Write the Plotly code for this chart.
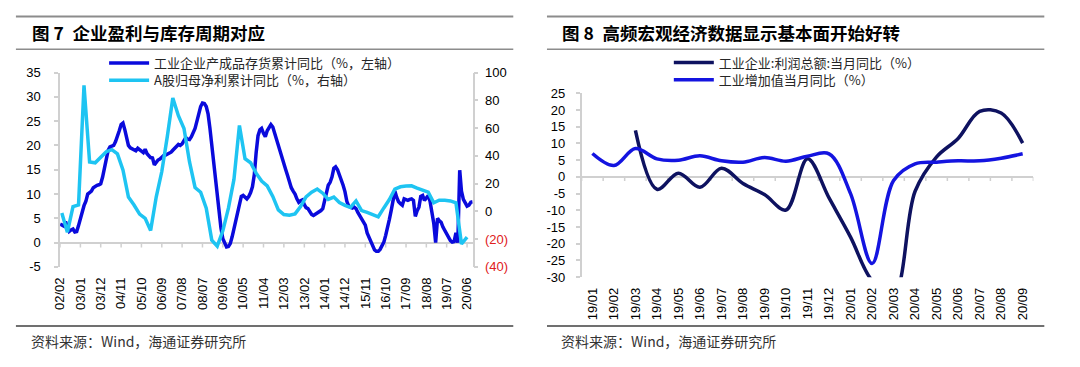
import pandas as pd
import plotly.graph_objects as go

W, H = 1080, 367


def fx(x):
    return x / W


def fy(y):
    return 1 - y / H


# ---------------- Figure 7 data ----------------
inventory_start = "2002-02-01"   # monthly, 工业企业产成品存货累计同比
inventory_yoy = [
    3.8, 3.6, 3.4, 4.3, 3.2, 2.3, 2.6, 2.8, 2.2, 2.3,
    3.5, 5.0, 6.5, 7.6, 8.5, 10.0, 10.3, 10.6, 11.3, 11.6,
    11.8, 11.9, 12.1, 13.5, 15.5, 17.5, 19.0, 19.7, 19.8, 20.0,
    20.8, 21.8, 23.0, 24.3, 24.6, 23.2, 21.5, 20.0, 19.5, 19.3,
    19.2, 18.9, 19.4, 19.0, 18.8, 18.5, 19.2, 18.3, 17.9, 17.5,
    17.4, 16.0, 16.5, 17.0, 17.2, 17.6, 17.9, 18.0, 18.2, 18.4,
    18.6, 19.0, 19.5, 19.9, 20.2, 20.0, 20.3, 21.0, 21.6, 21.3,
    21.2, 21.8, 22.5, 23.5, 25.0, 26.8, 28.0, 28.7, 28.6, 28.0,
    26.5, 23.5, 20.0, 16.5, 12.5, 8.5, 5.8, 3.0, 0.8, -0.3,
    -0.9, -0.8, -0.2, 1.2, 3.0, 4.8, 6.5, 8.3, 9.5, 9.7,
    9.2, 9.0, 9.5, 10.3, 11.5, 14.0, 18.5, 22.0, 23.2, 23.5,
    22.5, 21.8, 23.0, 23.8, 24.3, 23.8, 22.5, 21.0, 19.9, 18.5,
    17.0, 16.2, 15.0, 13.8, 12.5, 11.3, 10.6, 10.0, 9.0, 8.3,
    8.6, 8.8, 7.8, 7.2, 7.0, 6.3, 5.8, 5.6, 5.8, 6.0,
    6.3, 6.6, 7.0, 8.5, 10.6, 11.8, 12.4, 13.5, 15.3, 15.6,
    15.0, 14.0, 13.0, 11.8, 10.5, 8.5, 7.5, 7.3, 7.1, 7.3,
    7.0, 6.2, 5.5, 5.0, 4.5, 3.6, 2.0, 1.0, 0.0, -0.8,
    -1.5, -1.8, -1.8, -1.4, -0.8, 0.1, 1.5, 3.0, 4.8, 6.7,
    9.0, 10.6, 9.3, 8.4, 8.0, 7.7, 9.0, 8.8, 8.7, 8.9,
    9.0, 8.7, 5.4, 6.5, 7.3, 9.5, 9.7, 8.7, 9.2, 9.7,
    8.5, 6.0, 4.0, 0.0, 5.0, 4.5, 4.2, 3.2, 2.4, 1.8,
    1.2, 0.4, 0.1, 0.2, 2.0, 0.0, 14.9, 10.6, 8.9, 8.0,
    7.5, 7.7, 8.3, 8.4,
]

ashare_start = "2002-03-01"      # quarterly, A股归母净利累计同比
ashare_profit_yoy = [
    -1.2, -15.0, 3.4, 4.6, 90.8, 35.6, 35.0, 39.0, 43.0, 44.4,
    41.4, 29.8, 10.3, 4.6, -2.0, -5.0, -13.8, 10.3, 28.7, 54.0,
    81.6, 68.9, 59.7, 35.6, 17.2, 13.8, 2.3, -20.7, -25.0, -14.0,
    2.3, 23.0, 61.9, 37.9, 35.0, 27.5, 21.8, 18.4, 10.8, 1.1,
    -2.3, -2.8, -1.8, 3.5, 10.5, 13.8, 16.1, 13.1, 8.7, 10.3,
    6.4, 4.3, 2.9, 7.5, 0.6, -0.7, -2.3, -3.9, 2.5, 8.5,
    16.1, 17.7, 18.2, 18.4, 16.8, 15.4, 13.8, 6.2, 8.0, 8.0,
    7.5, 6.2, -23.5, -18.5,
]

fig7_tick_labels = ["02/02", "03/01", "03/12", "04/11", "05/10", "06/09", "07/08",
                    "08/07", "09/06", "10/05", "11/04", "12/03", "13/02", "14/01",
                    "14/12", "15/11", "16/10", "17/09", "18/08", "19/07", "20/06"]
fig7_left_ticks = [-5, 0, 5, 10, 15, 20, 25, 30, 35]
fig7_right_ticks = [-40, -20, 0, 20, 40, 60, 80, 100]

name_inv = "工业企业产成品存货累计同比（%，左轴）"
name_ash = "A股归母净利累计同比（%，右轴）"

# ---------------- Figure 8 data ----------------
fig8_months = ["19/01", "19/02", "19/03", "19/04", "19/05", "19/06", "19/07",
               "19/08", "19/09", "19/10", "19/11", "19/12", "20/01", "20/02",
               "20/03", "20/04", "20/05", "20/06", "20/07", "20/08", "20/09"]
profit_yoy = [None, None, 13.9, -3.7, 1.1, -3.1, 2.6, -2.0, -5.3, -9.9, 5.4,
              -6.3, -18.0, -31.0, -35.0, -4.3, 6.0, 11.5, 19.6, 19.1, 10.1]
va_yoy = [7.0, 3.4, 8.5, 5.4, 5.0, 6.3, 4.8, 4.4, 5.8, 4.7, 6.2,
          6.9, -5.0, -25.9, -1.1, 3.9, 4.4, 4.8, 4.8, 5.6, 6.9]
fig8_y_ticks = [-30, -25, -20, -15, -10, -5, 0, 5, 10, 15, 20, 25]

name_profit = "工业企业:利润总额:当月同比（%）"
name_va = "工业增加值当月同比（%）"

# ---------------- styling ----------------
CJK = "Noto Sans CJK SC"
NUM = "Liberation Sans, Arial, sans-serif"
AXIS_GREY = "#D0D0D0"
C_INV = "#0A0ADC"
C_ASH = "#1EC4F2"
C_PROFIT = "#0E1260"
C_VA = "#1414E0"

inv_dates = pd.date_range(inventory_start, periods=len(inventory_yoy), freq="MS")
ash_dates = pd.date_range(ashare_start, periods=len(ashare_profit_yoy), freq="3MS")
tick_dates = [pd.Timestamp(2000 + int(s[:2]), int(s[3:]), 1) for s in fig7_tick_labels]

fig = go.Figure()

fig.add_trace(go.Scatter(x=inv_dates, y=inventory_yoy, mode="lines", name=name_inv,
                         line=dict(color=C_INV, width=3.5), showlegend=True,
                         xaxis="x", yaxis="y", legend="legend2"))
fig.add_trace(go.Scatter(x=ash_dates, y=ashare_profit_yoy, mode="lines", name=name_ash,
                         line=dict(color=C_ASH, width=3.5), showlegend=True,
                         xaxis="x", yaxis="y2", legend="legend3"))
fig.add_trace(go.Scatter(x=fig8_months, y=profit_yoy, mode="lines", name=name_profit,
                         line=dict(color=C_PROFIT, width=3.5, shape="spline", smoothing=1),
                         connectgaps=True, showlegend=True,
                         xaxis="x2", yaxis="y3", legend="legend4"))
fig.add_trace(go.Scatter(x=fig8_months, y=va_yoy, mode="lines", name=name_va,
                         line=dict(color=C_VA, width=3.5, shape="spline", smoothing=1),
                         connectgaps=True, showlegend=True,
                         xaxis="x2", yaxis="y3", legend="legend5"))

tickfont = dict(family=NUM, size=13, color="#000000")

red_neg = ["<span style='color:#E02020'>(%d)</span>" % (-v) if v < 0 else str(v)
           for v in fig7_right_ticks]

layout = dict(
    width=W, height=H,
    margin=dict(l=0, r=0, t=0, b=0),
    paper_bgcolor="white", plot_bgcolor="white",
    showlegend=True,
    xaxis=dict(domain=[fx(52.6), fx(469)], anchor="y", type="date",
               range=[inv_dates[0], inv_dates[-1]],
               tickvals=tick_dates, ticktext=fig7_tick_labels, tickangle=-90,
               ticks="", showline=False, showgrid=False, zeroline=False,
               tickfont=tickfont, ticklabelstandoff=7),
    yaxis=dict(domain=[fy(271), fy(68.3)], anchor="x", range=[-5, 35],
               tickvals=fig7_left_ticks, ticktext=[str(v) for v in fig7_left_ticks],
               showline=True, linecolor=AXIS_GREY, linewidth=1.5,
               ticks="outside", ticklen=4, tickcolor=AXIS_GREY, tickwidth=1.5,
               showgrid=False, zeroline=True, zerolinecolor=AXIS_GREY, zerolinewidth=1.5,
               tickfont=tickfont, ticklabelstandoff=11),
    yaxis2=dict(overlaying="y", side="right", anchor="x", range=[-40, 100],
                tickvals=fig7_right_ticks, ticktext=red_neg,
                showline=True, linecolor=AXIS_GREY, linewidth=1.5,
                ticks="outside", ticklen=4, tickcolor=AXIS_GREY, tickwidth=1.5,
                showgrid=False, zeroline=False, tickfont=tickfont, ticklabelstandoff=4),
    xaxis2=dict(domain=[fx(579), fx(1035)], anchor="y3", type="category",
                range=[-0.5, len(fig8_months) - 0.5], tickangle=-90,
                ticks="", showline=False, showgrid=False, zeroline=False,
                tickfont=tickfont, ticklabelstandoff=7),
    yaxis3=dict(domain=[fy(281.7), fy(90)], anchor="x2", range=[-30, 25],
                tickvals=fig8_y_ticks, ticktext=[str(v) for v in fig8_y_ticks],
                showline=True, linecolor=AXIS_GREY, linewidth=1.5,
                ticks="outside", ticklen=4, tickcolor=AXIS_GREY, tickwidth=1.5,
                showgrid=False, zeroline=True, zerolinecolor=AXIS_GREY, zerolinewidth=1.5,
                tickfont=tickfont, ticklabelstandoff=8),
)

legend_font = dict(family=CJK, size=13, color="#262626")


def make_legend(x_px, y_px):
    return dict(x=fx(x_px), y=fy(y_px), xanchor="left", yanchor="middle",
                bgcolor="rgba(0,0,0,0)", borderwidth=0, font=legend_font,
                itemwidth=40, itemclick=False, itemdoubleclick=False, visible=True)


layout["legend2"] = make_legend(97, 58.5)
layout["legend3"] = make_legend(97, 76.5)
layout["legend4"] = make_legend(667, 58)
layout["legend5"] = make_legend(667, 76)

fig.update_layout(**layout)

# small tick marks on the zero lines
shapes = []
for d in tick_dates:
    shapes.append(dict(type="line", xref="x", yref="y", x0=d, x1=d, y0=0, y1=-1.0,
                       line=dict(color=AXIS_GREY, width=1.5), layer="below"))
for k in range(len(fig8_months) + 1):
    b = k - 0.5
    shapes.append(dict(type="line", xref="x2", yref="y3", x0=b, x1=b, y0=0, y1=-1.2,
                       line=dict(color=AXIS_GREY, width=1.5), layer="below"))

# panel rules
for (x0, x1) in [(8, 510), (544, 1046)]:
    shapes.append(dict(type="line", xref="paper", yref="paper", x0=fx(x0), x1=fx(x1),
                       y0=fy(10), y1=fy(10), line=dict(color="#8C8C8C", width=2)))
    shapes.append(dict(type="line", xref="paper", yref="paper", x0=fx(x0), x1=fx(x1),
                       y0=fy(44), y1=fy(44), line=dict(color="#8C8C8C", width=1.5)))
    shapes.append(dict(type="line", xref="paper", yref="paper", x0=fx(x0), x1=fx(x1),
                       y0=fy(332.5), y1=fy(332.5), line=dict(color="#404040", width=1.5)))
fig.update_layout(shapes=shapes)

title_font = dict(family=CJK, size=17.5, color="#000000", weight="bold")
source_font = dict(family=CJK, size=14, color="#333333")
annotations = [
    dict(text="图 7\u2002企业盈利与库存周期对应", x=fx(22), y=fy(27), font=title_font),
    dict(text="图 8\u2002高频宏观经济数据显示基本面开始好转", x=fx(557), y=fy(27), font=title_font),
    dict(text="资料来源：Wind，海通证券研究所", x=fx(21), y=fy(348), font=source_font),
    dict(text="资料来源：Wind，海通证券研究所", x=fx(556), y=fy(348), font=source_font),
]
for a in annotations:
    a.update(xref="paper", yref="paper", xanchor="left", yanchor="middle", showarrow=False)
fig.update_layout(annotations=annotations)

fig.write_html("out.html", config={"displayModeBar": False},
               post_script="document.body.style.margin='0px';")
